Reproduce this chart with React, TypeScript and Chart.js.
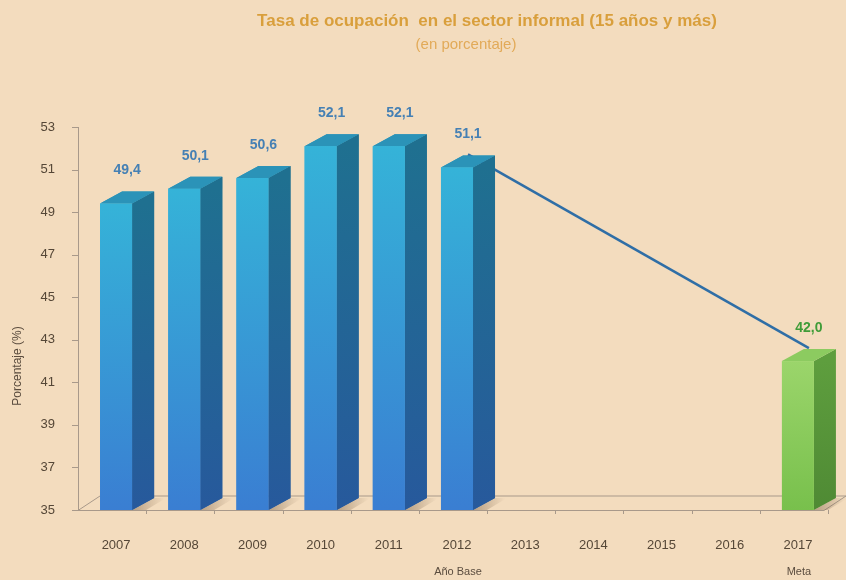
import { useEffect, useRef } from 'react';
import { Chart, registerables } from 'chart.js';

Chart.register(...registerables);

const categories = ['2007', '2008', '2009', '2010', '2011', '2012', '2013', '2014', '2015', '2016', '2017'];
const barValues: (number | null)[] = [49.4, 50.1, 50.6, 52.1, 52.1, 51.1, null, null, null, null, 42.0];
const lineValues: (number | null)[] = [null, null, null, null, null, 51.1, null, null, null, null, 42.0];
const subLabels = ['', '', '', '', '', 'Año Base', '', '', '', '', 'Meta'];
const goalIndex = 10;
const yMin = 35;
const yMax = 53;
const yStep = 2;
const titleText = 'Tasa de ocupación  en el sector informal (15 años y más)';
const subtitleText = '(en porcentaje)';
const yAxisTitle = 'Porcentaje (%)';

const FONT = '"Liberation Sans Narrow", "Arial Narrow", "Liberation Sans", Arial, sans-serif';
const BG = '#f3dcbe';
const DX = 22;
const DY = -12;

type Pal = { fTop: string; fBot: string; sTop: string; sBot: string; top: string };
const bluePal: Pal = { fTop: '#35b3d8', fBot: '#3a7ed2', sTop: '#1f7090', sBot: '#27599c', top: '#2b93b8' };
const greenPal: Pal = { fTop: '#9bd56b', fBot: '#78c04c', sTop: '#5e9e3e', sBot: '#4f8a34', top: '#8ccb60' };

function draw3DBar(ctx: CanvasRenderingContext2D, x: number, top: number, base: number, w: number, p: Pal, shadow: boolean) {
  const l = x - w / 2;
  const r = x + w / 2;
  if (shadow) {
    const sh = ctx.createLinearGradient(r, base, r + DX + 10, base);
    sh.addColorStop(0, 'rgba(110,85,60,0.45)');
    sh.addColorStop(1, 'rgba(110,85,60,0)');
    ctx.fillStyle = sh;
    ctx.beginPath();
    ctx.moveTo(r, base);
    ctx.lineTo(r + DX, base + DY);
    ctx.lineTo(r + DX + 12, base + DY);
    ctx.lineTo(r + 14, base);
    ctx.closePath();
    ctx.fill();
  }
  const sg = ctx.createLinearGradient(0, top, 0, base);
  sg.addColorStop(0, p.sTop);
  sg.addColorStop(1, p.sBot);
  ctx.fillStyle = sg;
  ctx.beginPath();
  ctx.moveTo(r, top);
  ctx.lineTo(r + DX, top + DY);
  ctx.lineTo(r + DX, base + DY);
  ctx.lineTo(r, base);
  ctx.closePath();
  ctx.fill();
  ctx.fillStyle = p.top;
  ctx.beginPath();
  ctx.moveTo(l, top);
  ctx.lineTo(l + DX, top + DY);
  ctx.lineTo(r + DX, top + DY);
  ctx.lineTo(r, top);
  ctx.closePath();
  ctx.fill();
  const fg = ctx.createLinearGradient(0, top, 0, base);
  fg.addColorStop(0, p.fTop);
  fg.addColorStop(1, p.fBot);
  ctx.fillStyle = fg;
  ctx.fillRect(l, top, r - l, base - top);
}

const bars3D = {
  id: 'bars3D',
  beforeDatasetsDraw(chart: any) {
    const { ctx, chartArea, scales } = chart;
    const y = scales.y;
    const xs = scales.x;
    const base = y.getPixelForValue(yMin);
    const catW = (chartArea.right - chartArea.left) / categories.length;
    ctx.save();
    ctx.strokeStyle = '#a8998a';
    ctx.lineWidth = 1;
    const fl = chartArea.left - 4;
    const fr = chartArea.right - 8;
    ctx.beginPath();
    ctx.moveTo(fl, base + 0.5);
    ctx.lineTo(fr, base + 0.5);
    ctx.lineTo(fr + DX, base + DY - 2);
    ctx.moveTo(fl, base + 0.5);
    ctx.lineTo(fl + DX, base + DY - 2);
    ctx.lineTo(fr + DX + 10, base + DY - 2);
    ctx.stroke();
    ctx.beginPath();
    ctx.moveTo(fl + 0.5, y.getPixelForValue(yMax));
    ctx.lineTo(fl + 0.5, base);
    for (let v = yMin; v <= yMax; v += yStep) {
      const py = Math.round(y.getPixelForValue(v)) + 0.5;
      ctx.moveTo(fl - 6, py);
      ctx.lineTo(fl, py);
    }
    for (let k = 1; k <= categories.length; k++) {
      const px = Math.round(fl + catW * k) + 0.5;
      ctx.moveTo(px, base);
      ctx.lineTo(px, base + 4);
    }
    ctx.stroke();
    const meta = chart.getDatasetMeta(0);
    meta.data.forEach((el: any, i: number) => {
      const v = barValues[i];
      if (v == null) return;
      draw3DBar(ctx, el.x, el.y, base, el.width, i === goalIndex ? greenPal : bluePal, true);
    });
    ctx.save();
    ctx.translate(18, 366);
    ctx.rotate(-Math.PI / 2);
    ctx.fillStyle = '#5a4c3e';
    ctx.font = `12px ${FONT}`;
    ctx.textAlign = 'center';
    ctx.textBaseline = 'middle';
    ctx.fillText(yAxisTitle, 0, 0);
    ctx.restore();
    ctx.textAlign = 'center';
    ctx.textBaseline = 'middle';
    ctx.fillStyle = '#d99f3c';
    ctx.font = `bold 17px ${FONT}`;
    ctx.fillText(titleText, 487, 21);
    ctx.fillStyle = '#e2aa58';
    ctx.font = `15px ${FONT}`;
    ctx.fillText(subtitleText, 466, 45);
    ctx.fillStyle = '#5a4c3e';
    ctx.font = `11px ${FONT}`;
    subLabels.forEach((s, i) => {
      if (!s) return;
      ctx.fillText(s, xs.getPixelForValue(i) + 1, 572);
    });
    ctx.restore();
  },
  beforeDatasetDraw(chart: any, args: any) {
    if (args.index === 1) {
      chart.ctx.save();
      chart.ctx.translate(11, -13);
    }
  },
  afterDatasetDraw(chart: any, args: any) {
    if (args.index === 1) chart.ctx.restore();
  },
  afterDatasetsDraw(chart: any) {
    const { ctx, scales } = chart;
    const base = scales.y.getPixelForValue(yMin);
    const meta = chart.getDatasetMeta(0);
    ctx.save();
    meta.data.forEach((el: any, i: number) => {
      const v = barValues[i];
      if (v == null) return;
      if (i !== goalIndex) draw3DBar(ctx, el.x, el.y, base, el.width, bluePal, false);
    });
    ctx.textAlign = 'center';
    ctx.textBaseline = 'middle';
    ctx.font = `bold 14px ${FONT}`;
    meta.data.forEach((el: any, i: number) => {
      const v = barValues[i];
      if (v == null) return;
      ctx.fillStyle = i === goalIndex ? '#3f9c38' : '#4580b4';
      ctx.fillText(v.toFixed(1).replace('.', ','), el.x + 11, el.y + DY - 21);
    });
    ctx.restore();
  },
};

export default function App() {
  const ref = useRef<HTMLCanvasElement>(null);
  useEffect(() => {
    if (!ref.current) return;
    const chart = new Chart(ref.current, {
      type: 'bar',
      data: {
        labels: categories,
        datasets: [
          {
            type: 'bar',
            data: barValues as any,
            backgroundColor: 'rgba(0,0,0,0)',
            barPercentage: 0.47,
            categoryPercentage: 1,
            order: 2,
          },
          {
            type: 'line',
            data: lineValues as any,
            spanGaps: true,
            borderColor: '#2f6ea6',
            borderWidth: 2.5,
            pointRadius: 0,
            order: 1,
          } as any,
        ],
      },
      options: {
        animation: false,
        responsive: false,
        events: [],
        layout: { padding: { top: 127, right: 14, left: 0, bottom: 0 } },
        plugins: { legend: { display: false }, tooltip: { enabled: false }, title: { display: false } },
        scales: {
          x: {
            offset: true,
            grid: { display: false, drawTicks: false },
            border: { display: false },
            ticks: { color: '#554737', font: { family: FONT, size: 13 }, padding: 28, maxRotation: 0 },
            afterFit: (s: any) => { s.height = 70; },
          },
          y: {
            min: yMin,
            max: yMax,
            grid: { display: false, drawTicks: false },
            border: { display: false },
            ticks: { stepSize: yStep, color: '#554737', font: { family: FONT, size: 13 }, padding: 27 },
            afterFit: (s: any) => { s.width = 82; },
          },
        },
      },
      plugins: [bars3D],
    });
    return () => chart.destroy();
  }, []);
  return (
    <div style={{ position: 'fixed', left: 0, top: 0, width: 846, height: 580, background: BG }}>
      <canvas ref={ref} width={846} height={580} style={{ display: 'block' }} />
    </div>
  );
}
